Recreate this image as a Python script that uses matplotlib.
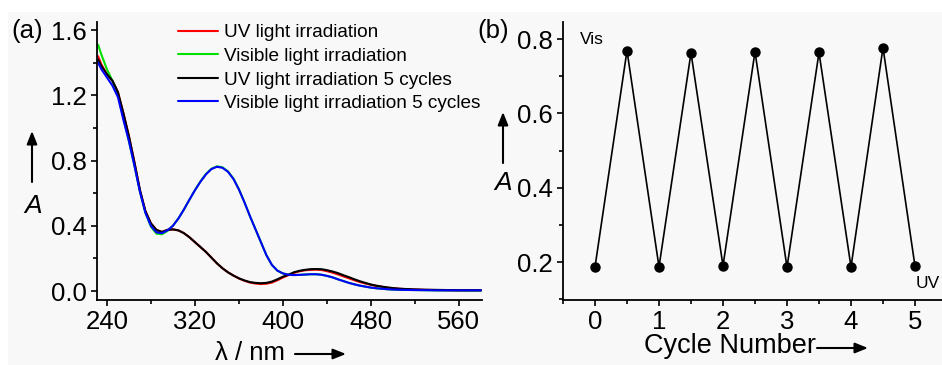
import matplotlib
matplotlib.use("Agg")
import matplotlib.pyplot as plt
from matplotlib.patches import Rectangle, FancyArrowPatch
from matplotlib.ticker import MultipleLocator, FormatStrFormatter

plt.rcParams["font.family"] = ["Liberation Sans", "DejaVu Sans"]

# ---------------- data ----------------
wavelength = [232, 235, 240, 245, 250, 255, 260, 265, 270, 275, 280, 285, 290,
              295, 300, 305, 310, 315, 320, 325, 330, 335, 340, 345, 350, 355,
              360, 365, 370, 375, 380, 385, 390, 395, 400, 405, 410, 415, 420,
              425, 430, 435, 440, 445, 450, 455, 460, 465, 470, 475, 480, 485,
              490, 495, 500, 505, 510, 520, 530, 540, 550, 560, 570, 580]

uv_1 = [1.44, 1.39, 1.33, 1.29, 1.22, 1.09, 0.95, 0.79, 0.62, 0.49, 0.415, 0.375, 0.362,
        0.375, 0.378, 0.372, 0.355, 0.33, 0.30, 0.27, 0.24, 0.205, 0.17, 0.14, 0.115, 0.095,
        0.077, 0.063, 0.052, 0.046, 0.043, 0.045, 0.052, 0.066, 0.083, 0.097, 0.111, 0.121, 0.127,
        0.130, 0.131, 0.129, 0.122, 0.113, 0.102, 0.090, 0.078, 0.066, 0.055, 0.046, 0.038, 0.031,
        0.026, 0.021, 0.017, 0.014, 0.012, 0.009, 0.007, 0.006, 0.005, 0.004, 0.004, 0.004]

vis_1 = [1.51, 1.45, 1.36, 1.29, 1.21, 1.06, 0.92, 0.77, 0.61, 0.48, 0.395, 0.352, 0.348,
         0.368, 0.40, 0.445, 0.50, 0.56, 0.618, 0.672, 0.718, 0.750, 0.765, 0.759, 0.734, 0.690,
         0.625, 0.545, 0.46, 0.38, 0.30, 0.22, 0.16, 0.125, 0.108, 0.100, 0.098, 0.099, 0.101,
         0.103, 0.103, 0.100, 0.093, 0.084, 0.072, 0.061, 0.050, 0.041, 0.033, 0.027, 0.021, 0.017,
         0.014, 0.011, 0.009, 0.008, 0.007, 0.006, 0.005, 0.004, 0.004, 0.004, 0.003, 0.003]

uv_5 = [1.42, 1.38, 1.33, 1.29, 1.22, 1.09, 0.95, 0.79, 0.62, 0.49, 0.415, 0.375, 0.362,
        0.375, 0.378, 0.372, 0.355, 0.33, 0.30, 0.27, 0.24, 0.205, 0.17, 0.14, 0.115, 0.095,
        0.078, 0.065, 0.055, 0.050, 0.048, 0.050, 0.058, 0.072, 0.088, 0.100, 0.115, 0.124, 0.130,
        0.134, 0.135, 0.134, 0.128, 0.120, 0.110, 0.097, 0.085, 0.072, 0.060, 0.050, 0.040, 0.033,
        0.027, 0.022, 0.018, 0.015, 0.013, 0.010, 0.008, 0.007, 0.006, 0.005, 0.005, 0.005]

vis_5 = [1.40, 1.36, 1.31, 1.26, 1.19, 1.05, 0.92, 0.77, 0.61, 0.48, 0.40, 0.36, 0.355,
         0.372, 0.40, 0.445, 0.50, 0.56, 0.618, 0.670, 0.715, 0.748, 0.762, 0.756, 0.732, 0.688,
         0.623, 0.545, 0.46, 0.38, 0.30, 0.22, 0.16, 0.125, 0.108, 0.100, 0.098, 0.099, 0.101,
         0.103, 0.103, 0.100, 0.093, 0.084, 0.072, 0.061, 0.050, 0.041, 0.033, 0.027, 0.021, 0.017,
         0.014, 0.011, 0.009, 0.008, 0.007, 0.006, 0.005, 0.004, 0.004, 0.004, 0.004, 0.004]

series_labels = ["UV light irradiation", "Visible light irradiation",
                 "UV light irradiation 5 cycles", "Visible light irradiation 5 cycles"]
series_colors = ["#ff0000", "#00e000", "#000000", "#0000ff"]

cycle = [0, 0.5, 1, 1.5, 2, 2.5, 3, 3.5, 4, 4.5, 5]
absorbance = [0.187, 0.769, 0.187, 0.763, 0.190, 0.766, 0.186, 0.764, 0.187, 0.777, 0.189]

# ---------------- figure ----------------
W, H = 942, 365
fig = plt.figure(figsize=(W / 100, H / 100), dpi=100, facecolor="#f8f8f8")
# white margin strips along top and left edges
fig.patches.append(Rectangle((0, 1 - 12 / H), 1, 12 / H, transform=fig.transFigure,
                             facecolor="white", edgecolor="none", zorder=0))
fig.patches.append(Rectangle((0, 0), 8 / W, 1, transform=fig.transFigure,
                             facecolor="white", edgecolor="none", zorder=0))


def px_box(left, top, right, bottom):
    return [left / W, 1 - bottom / H, (right - left) / W, (bottom - top) / H]


def style_axes(ax):
    ax.set_facecolor("none")
    for s in ("top", "right"):
        ax.spines[s].set_visible(False)
    for s in ("left", "bottom"):
        ax.spines[s].set_linewidth(1.3)
    ax.tick_params(which="major", direction="out", length=4.5, width=1.2,
                   labelsize=18.5, pad=3)
    ax.tick_params(which="minor", direction="out", length=3, width=1.2)


def arrow(x0, y0, x1, y1):
    fig.add_artist(FancyArrowPatch(
        (x0 / W, 1 - y0 / H), (x1 / W, 1 - y1 / H), transform=fig.transFigure,
        arrowstyle="-|>,head_length=0.55,head_width=0.22", mutation_scale=14,
        linewidth=1.5, color="black", shrinkA=0, shrinkB=0))


# panel (a): absorption spectra
ax1 = fig.add_axes(px_box(97, 22, 482, 300))
style_axes(ax1)
for y, lab, col in zip([uv_1, vis_1, uv_5, vis_5], series_labels, series_colors):
    ax1.plot(wavelength, y, color=col, lw=1.5, label=lab,
             solid_joinstyle="round", solid_capstyle="round")
ax1.set_xlim(231, 581)
ax1.set_ylim(-0.055, 1.65)
ax1.xaxis.set_major_locator(MultipleLocator(80))
ax1.xaxis.set_minor_locator(MultipleLocator(40))
ax1.yaxis.set_major_locator(MultipleLocator(0.4))
ax1.yaxis.set_minor_locator(MultipleLocator(0.2))
ax1.yaxis.set_major_formatter(FormatStrFormatter("%.1f"))
ax1.legend(loc="upper left", bbox_to_anchor=(178 / W, 1 - 24 / H),
           bbox_transform=fig.transFigure, frameon=False, fontsize=13.7,
           handlelength=2.1, handletextpad=0.3, labelspacing=0.33,
           borderpad=0, borderaxespad=0)

fig.text(11 / W, 1 - 31 / H, "(a)", fontsize=18.5, va="center", ha="left")
fig.text(33 / W, 1 - 206 / H, "A", fontsize=19, style="italic", ha="center", va="center")
arrow(32, 182, 32, 131)
fig.text(250 / W, 1 - 353 / H, "λ / nm", fontsize=18.5, ha="center", va="center")
arrow(295, 354, 346, 354)

# panel (b): switching cycles
ax2 = fig.add_axes(px_box(563, 22, 947, 300))
style_axes(ax2)
ax2.plot(cycle, absorbance, color="black", lw=1.2, marker="o", markersize=6.5)
ax2.set_xlim(-0.5, 5.5)
ax2.set_ylim(0.098, 0.846)
ax2.xaxis.set_major_locator(MultipleLocator(1))
ax2.xaxis.set_minor_locator(MultipleLocator(0.5))
ax2.yaxis.set_major_locator(MultipleLocator(0.2))
ax2.yaxis.set_minor_locator(MultipleLocator(0.1))
ax2.yaxis.set_major_formatter(FormatStrFormatter("%.1f"))

fig.text(477 / W, 1 - 31 / H, "(b)", fontsize=18.5, va="center", ha="left")
fig.text(503 / W, 1 - 183 / H, "A", fontsize=19, style="italic", ha="center", va="center")
arrow(503, 163, 503, 112)
fig.text(580 / W, 1 - 39 / H, "Vis", fontsize=12.5, ha="left", va="center")
fig.text(916 / W, 1 - 284 / H, "UV", fontsize=12.5, ha="left", va="center")
fig.text(730 / W, 1 - 346 / H, "Cycle Number", fontsize=19.5, ha="center", va="center")
arrow(817, 348, 868, 348)

fig.savefig("out.png", dpi=100, facecolor=fig.get_facecolor())
